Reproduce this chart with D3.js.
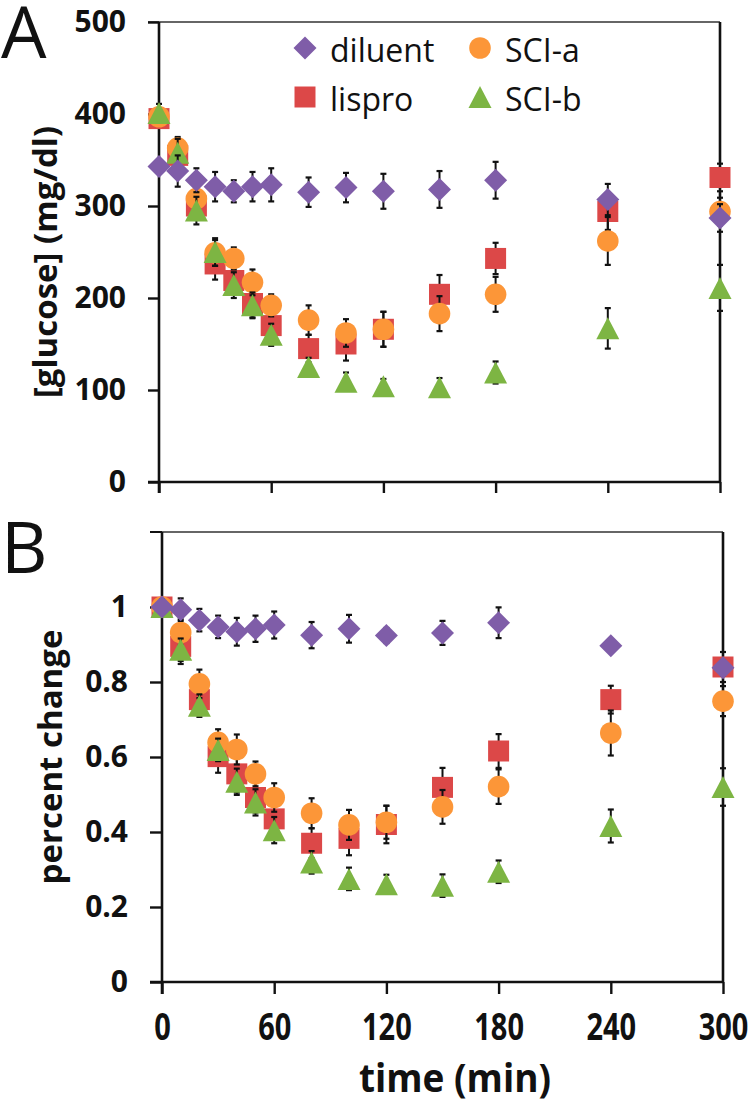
<!DOCTYPE html>
<html>
<head>
<meta charset="utf-8">
<script src="https://cdn.jsdelivr.net/npm/d3@7"></script>
<style>
  html, body { margin: 0; padding: 0; background: #fff; }
  svg { display: block; }
  text { font-family: "Open Sans", "DejaVu Sans", sans-serif; fill: #111; }
</style>
</head>
<body>
<svg id="chart" width="750" height="1106"></svg>
<script>
// ---------------- DATA ----------------
const times = [0, 10, 20, 30, 40, 50, 60, 80, 100, 120, 150, 180, 240, 300];
const seriesNames = ["diluent", "lispro", "SCI-a", "SCI-b"];
const xTicks = [0, 60, 120, 180, 240, 300];
const yTicksA = [0, 100, 200, 300, 400, 500];
const yTicksB = [0, 0.2, 0.4, 0.6, 0.8, 1];

// Panel A: [glucose] (mg/dl)
const glucoseDiluent = [343, 338, 328, 321, 316, 321, 323, 315, 320, 316, 318, 328, 307, 287];
const glucoseLispro  = [395, 355, 300, 237, 219, 194, 170, 145, 150, 166, 204, 243, 294, 331];
const glucoseSCIa    = [397, 363, 308, 249, 243, 217, 192, 176, 162, 166, 183, 204, 262, 294];
const glucoseSCIb    = [401, 358, 295, 250, 214, 192, 160, 125, 109, 104, 103, 119, 167, 211];
const glucoseErrDiluent = [5, 17, 13, 16, 12, 16, 18, 16, 16, 19, 20, 20, 17, 15];
const glucoseErrLispro  = [8, 15, 15, 17, 15, 15, 15, 15, 18, 19, 21, 17, 20, 15];
const glucoseErrSCIa    = [8, 12, 12, 14, 12, 14, 12, 16, 15, 19, 19, 19, 26, 15];
const glucoseErrSCIb    = [10, 15, 15, 15, 14, 14, 12, 10, 10, 8, 10, 12, 22, 25];

// Panel B: percent change
const pctDiluent = [1.0, 0.993, 0.965, 0.947, 0.934, 0.942, 0.952, 0.925, 0.942, 0.924, 0.931, 0.958, 0.897, 0.838];
const pctLispro  = [1.0, 0.895, 0.753, 0.601, 0.555, 0.492, 0.435, 0.370, 0.383, 0.420, 0.519, 0.616, 0.753, 0.840];
const pctSCIa    = [1.0, 0.932, 0.795, 0.639, 0.620, 0.555, 0.492, 0.450, 0.419, 0.426, 0.467, 0.521, 0.664, 0.749];
const pctSCIb    = [1.0, 0.886, 0.737, 0.619, 0.534, 0.479, 0.405, 0.319, 0.275, 0.261, 0.257, 0.294, 0.416, 0.520];
const pctErrDiluent = [0.005, 0.03, 0.03, 0.03, 0.037, 0.035, 0.036, 0.035, 0.037, 0.02, 0.032, 0.041, 0.01, 0.02];
const pctErrLispro  = [0.01, 0.047, 0.04, 0.043, 0.05, 0.04, 0.04, 0.04, 0.045, 0.05, 0.052, 0.045, 0.037, 0.04];
const pctErrSCIa    = [0.01, 0.035, 0.038, 0.035, 0.04, 0.033, 0.038, 0.04, 0.04, 0.044, 0.045, 0.046, 0.06, 0.04];
const pctErrSCIb    = [0.02, 0.03, 0.03, 0.03, 0.035, 0.035, 0.035, 0.03, 0.03, 0.025, 0.03, 0.03, 0.044, 0.05];

// ---------------- STYLE ----------------
const colors = { "diluent": "#7F5DA8", "lispro": "#DC4848", "SCI-a": "#FC9638", "SCI-b": "#7DB543" };
const shapes = { "diluent": "diamond", "lispro": "square", "SCI-a": "circle", "SCI-b": "triangle" };
const drawOrder = ["lispro", "SCI-a", "SCI-b", "diluent"];

function markerPath(shape) {
  const p = d3.path();
  if (shape === "diamond") { const r = 11.5; p.moveTo(0, -r); p.lineTo(r, 0); p.lineTo(0, r); p.lineTo(-r, 0); p.closePath(); }
  else if (shape === "square") { const h = 10.5; p.rect(-h, -h, 2 * h, 2 * h); }
  else if (shape === "circle") { p.arc(0, 0, 10.8, 0, 2 * Math.PI); }
  else { const w = 11.5, h = 11; p.moveTo(0, -h); p.lineTo(w, h); p.lineTo(-w, h); p.closePath(); }
  return p.toString();
}

const svg = d3.select("#chart");

function drawPanel(cfg) {
  const x = d3.scaleLinear().domain([0, 300]).range([cfg.left, cfg.right]);
  const y = d3.scaleLinear().domain(cfg.yDomain).range([cfg.bottom, cfg.top]);
  const g = svg.append("g");

  // top border (thin)
  g.append("line").attr("x1", cfg.left - cfg.tickLen).attr("x2", cfg.right)
    .attr("y1", y(cfg.yDomain[1])).attr("y2", y(cfg.yDomain[1]))
    .attr("stroke", "#333").attr("stroke-width", 1.6);
  // right border
  g.append("line").attr("x1", cfg.right).attr("x2", cfg.right)
    .attr("y1", y(cfg.yDomain[1])).attr("y2", cfg.bottom)
    .attr("stroke", "#111").attr("stroke-width", 2.6);

  // y axis
  const yAxis = d3.axisLeft(y).tickValues(cfg.yTicks).tickSize(cfg.tickLen).tickPadding(cfg.tickPad)
    .tickFormat(cfg.yFormat).tickSizeOuter(0);
  const ya = g.append("g").attr("transform", `translate(${cfg.left},0)`).call(yAxis);
  ya.select(".domain").attr("stroke", "#111").attr("stroke-width", 2.6)
    .attr("d", `M0,${y(cfg.yDomain[1])}V${cfg.bottom + cfg.tickLen}`);
  ya.selectAll(".tick line").attr("stroke", "#111").attr("stroke-width", 2.4);
  ya.selectAll(".tick text").attr("font-size", 30).attr("font-weight", 700).attr("fill", "#111")
    .attr("font-family", "'Open Sans', sans-serif");
  if (cfg.extraTopTick) {
    g.append("line").attr("x1", cfg.left - cfg.tickLen).attr("x2", cfg.left)
      .attr("y1", y(cfg.yDomain[1])).attr("y2", y(cfg.yDomain[1])).attr("stroke", "#111").attr("stroke-width", 2);
  }

  // x axis
  const xAxis = d3.axisBottom(x).tickValues(xTicks).tickSize(cfg.tickLen).tickPadding(4)
    .tickFormat(cfg.showXLabels ? d3.format("d") : () => "").tickSizeOuter(0);
  const xa = g.append("g").attr("transform", `translate(0,${cfg.bottom})`).call(xAxis);
  xa.select(".domain").attr("stroke", "#111").attr("stroke-width", 2.6)
    .attr("d", `M${cfg.left - cfg.tickLen},0H${cfg.right}`);
  xa.selectAll(".tick line").attr("stroke", "#111").attr("stroke-width", 2.4);
  if (cfg.showXLabels) {
    xa.selectAll(".tick text")
      .attr("font-size", 29).attr("font-weight", 700).attr("fill", "#111")
      .attr("font-family", "'Open Sans', sans-serif")
      .attr("y", 0).attr("dy", 0)
      .attr("transform", d => `translate(0,${cfg.xLabelBaseline - cfg.bottom}) scale(1,1.3)`);
  }

  // y label
  g.append("text")
    .attr("transform", `translate(${cfg.yLabelX},${cfg.yLabelY}) rotate(-90)`)
    .attr("text-anchor", "middle").attr("font-size", 33).attr("font-weight", 700)
    .text(cfg.yLabel);

  // panel letter
  g.append("text").attr("x", cfg.letterX).attr("y", cfg.letterY)
    .attr("font-size", 72).attr("font-weight", 400).text(cfg.letter);

  // series
  drawOrder.forEach(name => {
    const vals = cfg.values[name], errs = cfg.errors[name];
    const data = times.map((t, i) => ({ t, v: vals[i], e: errs[i] }));
    const sg = g.append("g");
    const eb = sg.selectAll("g.eb").data(data).join("g").attr("class", "eb");
    eb.append("line").attr("x1", d => x(d.t)).attr("x2", d => x(d.t))
      .attr("y1", d => y(d.v - d.e)).attr("y2", d => y(d.v + d.e))
      .attr("stroke", "#111").attr("stroke-width", 2);
    [-1, 1].forEach(s => {
      eb.append("line").attr("x1", d => x(d.t) - 3).attr("x2", d => x(d.t) + 3)
        .attr("y1", d => y(d.v + s * d.e)).attr("y2", d => y(d.v + s * d.e))
        .attr("stroke", "#111").attr("stroke-width", 2.2);
    });
    sg.selectAll("path.mk").data(data).join("path").attr("class", "mk")
      .attr("d", markerPath(shapes[name]))
      .attr("transform", d => `translate(${x(d.t)},${y(d.v)})`)
      .attr("fill", colors[name]);
  });
}

drawPanel({
  left: 159, right: 720, top: 22, bottom: 482, yDomain: [0, 500], yTicks: yTicksA,
  yFormat: d3.format("d"), tickLen: 11, tickPad: 22, showXLabels: false,
  yLabel: "[glucose] (mg/dl)", yLabelX: 57, yLabelY: 262,
  letter: "A", letterX: 1, letterY: 58,
  values: { "diluent": glucoseDiluent, "lispro": glucoseLispro, "SCI-a": glucoseSCIa, "SCI-b": glucoseSCIb },
  errors: { "diluent": glucoseErrDiluent, "lispro": glucoseErrLispro, "SCI-a": glucoseErrSCIa, "SCI-b": glucoseErrSCIb }
});

drawPanel({
  left: 162, right: 723, top: 532, bottom: 982, yDomain: [0, 1.2], yTicks: yTicksB,
  yFormat: d => d === 0 ? "0" : d === 1 ? "1" : d3.format(".1f")(d), tickLen: 12, tickPad: 22,
  showXLabels: true, xLabelBaseline: 1040, extraTopTick: true,
  yLabel: "percent change", yLabelX: 62, yLabelY: 757,
  letter: "B", letterX: 1, letterY: 573,
  values: { "diluent": pctDiluent, "lispro": pctLispro, "SCI-a": pctSCIa, "SCI-b": pctSCIb },
  errors: { "diluent": pctErrDiluent, "lispro": pctErrLispro, "SCI-a": pctErrSCIa, "SCI-b": pctErrSCIb }
});

// x axis title
svg.append("text").attr("transform", "translate(455,1092) scale(1,1.06)").attr("text-anchor", "middle")
  .attr("font-size", 37).attr("font-weight", 700).text("time (min)");

// legend (panel A)
const legendItems = [
  { name: "diluent", mx: 305, my: 48 },
  { name: "lispro", mx: 305, my: 97 },
  { name: "SCI-a", mx: 480, my: 48 },
  { name: "SCI-b", mx: 480, my: 97 }
];
const lg = svg.append("g");
lg.selectAll("path").data(legendItems).join("path")
  .attr("d", d => markerPath(shapes[d.name]))
  .attr("transform", d => `translate(${d.mx},${d.my})`)
  .attr("fill", d => colors[d.name]);
lg.selectAll("text").data(legendItems).join("text")
  .attr("x", d => d.mx + 25).attr("y", d => d.my + 14)
  .attr("font-size", 32).attr("font-weight", 400).text(d => d.name);
</script>
</body>
</html>
